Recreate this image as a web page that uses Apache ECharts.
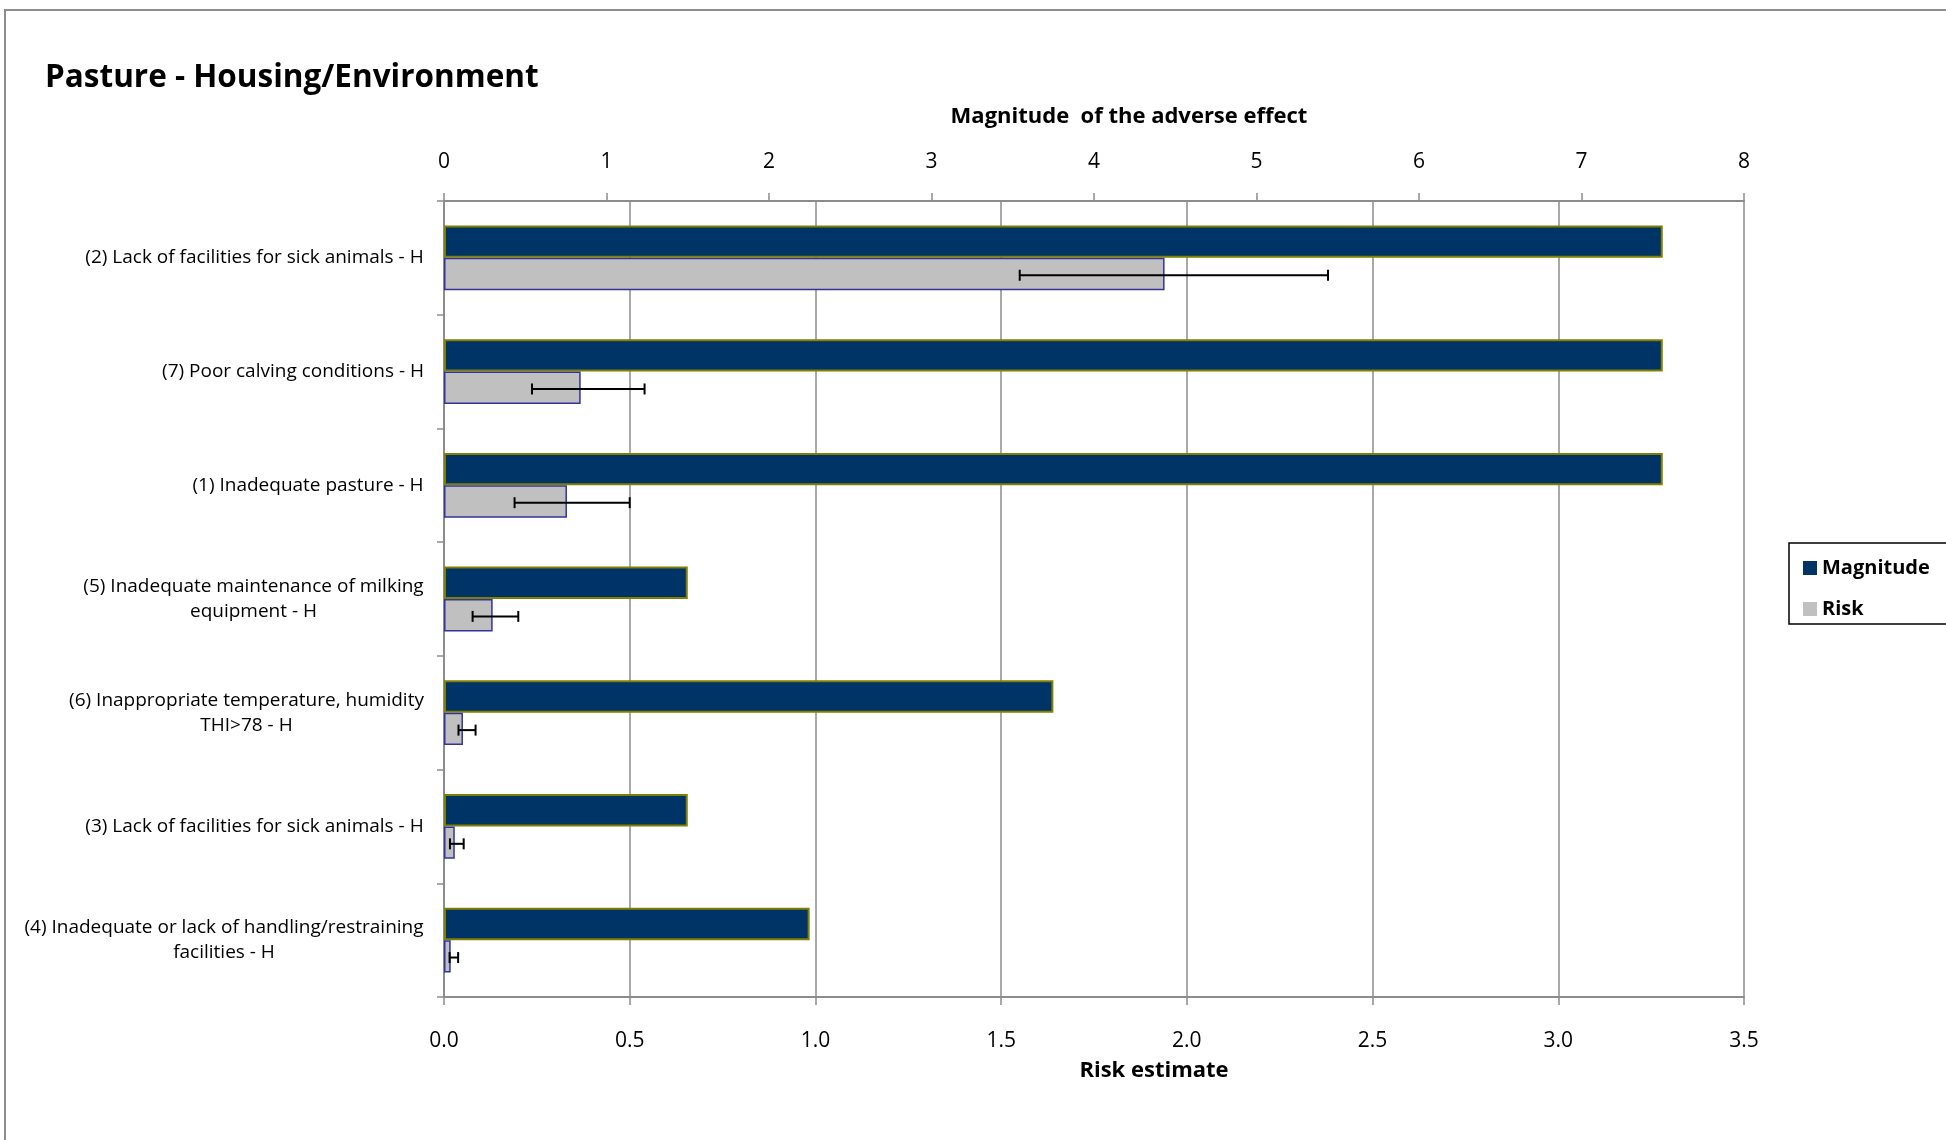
<!DOCTYPE html>
<html>
<head>
<meta charset="utf-8">
<script src="https://cdn.jsdelivr.net/npm/echarts@6/dist/echarts.min.js"></script>
<style>html,body{margin:0;padding:0;background:#fff}#c{width:1946px;height:1140px}</style>
</head>
<body>
<div id="c"></div>
<script>
const categories = [
  "(2) Lack of facilities for sick animals - H",
  "(7) Poor calving conditions - H",
  "(1) Inadequate pasture - H",
  "(5) Inadequate maintenance of milking\nequipment - H",
  "(6) Inappropriate temperature, humidity\nTHI>78 - H",
  "(3) Lack of facilities for sick animals - H",
  "(4) Inadequate or lack of handling/restraining\nfacilities - H"
];
const magnitude = [7.5, 7.5, 7.5, 1.5, 3.75, 1.5, 2.25];
const risk      = [1.94, 0.368, 0.331, 0.131, 0.051, 0.029, 0.018];
const riskLow   = [1.55, 0.237, 0.19, 0.077, 0.039, 0.016, 0.015];
const riskHigh  = [2.38, 0.540, 0.50, 0.200, 0.085, 0.053, 0.038];
const seriesNames = ["Magnitude", "Risk"];

const FONT = "'Open Sans', Lato, sans-serif";
const LABEL_SIZE = 19;
const ctx = document.createElement('canvas').getContext('2d');
ctx.font = LABEL_SIZE + "px 'Open Sans'";
const rich = {};
categories.forEach((c, i) => {
  const w = Math.max(...c.split('\n').map(l => ctx.measureText(l).width));
  rich['l' + i] = { width: Math.ceil(w), align: 'center', fontSize: LABEL_SIZE, fontFamily: FONT, lineHeight: 25, color: '#000' };
});

const chart = echarts.init(document.getElementById('c'), null, { renderer: 'canvas' });
const gray = '#8c8c8c';
chart.setOption({
  backgroundColor: '#fff',
  animation: false,
  graphic: [{
    type: 'rect', z: -10, silent: true,
    shape: { x: 5, y: 10, width: 3000, height: 3000 },
    style: { fill: 'none', stroke: gray, lineWidth: 2 }
  }],
  title: {
    text: 'Pasture - Housing/Environment',
    left: 40, top: 57,
    textStyle: { fontFamily: FONT, fontWeight: 'bold', fontSize: 31.5, color: '#000' }
  },
  legend: {
    orient: 'vertical', left: 1789, top: 543,
    data: seriesNames, icon: 'rect', itemWidth: 14, itemHeight: 14, itemGap: 21,
    padding: [15, 60, 5, 14], borderColor: '#000', borderWidth: 1.5,
    textStyle: { fontFamily: FONT, fontWeight: 'bold', fontSize: 20, color: '#000', lineHeight: 20 },
    itemStyle: { borderWidth: 0 }
  },
  grid: { left: 444, right: 202, top: 201, bottom: 143, containLabel: false },
  xAxis: [{
    type: 'value', position: 'top', min: 0, max: 8, interval: 1,
    name: 'Magnitude  of the adverse effect', nameLocation: 'middle', nameGap: 73,
    nameTextStyle: { fontFamily: FONT, fontWeight: 'bold', fontSize: 22, color: '#000', padding: [0, 0, 0, 70] },
    axisLine: { show: true, onZero: false, lineStyle: { color: gray, width: 2 } },
    axisTick: { show: true, length: 8, lineStyle: { color: gray, width: 1.5 } },
    axisLabel: { fontFamily: FONT, fontSize: 21, color: '#000', margin: 28 },
    splitLine: { show: false }
  }, {
    type: 'value', position: 'bottom', min: 0, max: 3.5, interval: 0.5,
    name: 'Risk estimate', nameLocation: 'middle', nameGap: 63,
    nameTextStyle: { fontFamily: FONT, fontWeight: 'bold', fontSize: 22, color: '#000', padding: [0, 0, 0, 120] },
    axisLine: { show: true, onZero: false, lineStyle: { color: gray, width: 2 } },
    axisTick: { show: true, length: 8, lineStyle: { color: gray, width: 1.5 } },
    axisLabel: { fontFamily: FONT, fontSize: 21, color: '#000', margin: 34, formatter: v => v.toFixed(1) },
    splitLine: { show: true, lineStyle: { color: gray, width: 1.5 } }
  }],
  yAxis: {
    type: 'category', inverse: true, data: categories,
    axisLine: { show: true, onZero: false, lineStyle: { color: gray, width: 2 } },
    axisTick: { show: true, length: 7, lineStyle: { color: gray, width: 1.5 } },
    axisLabel: {
      margin: 20, align: 'right', rich: rich,
      formatter: (v, i) => v.split('\n').map(l => '{l' + i + '|' + l + '}').join('\n')
    },
    splitLine: { show: false }
  },
  series: [{
    name: seriesNames[0], type: 'bar', xAxisIndex: 0, yAxisIndex: 0, data: magnitude,
    barGap: '0%', barCategoryGap: '43%',
    itemStyle: { color: '#003366', borderColor: '#808000', borderWidth: 2 }
  }, {
    name: seriesNames[1], type: 'bar', xAxisIndex: 1, yAxisIndex: 0, data: risk,
    barGap: '0%', barCategoryGap: '43%',
    itemStyle: { color: '#c0c0c0', borderColor: '#333399', borderWidth: 1.5 }
  }, {
    name: 'errors', type: 'custom', xAxisIndex: 1, yAxisIndex: 0, z: 10, silent: true,
    data: categories.map((c, i) => [i, riskLow[i], riskHigh[i]]),
    encode: { x: [1, 2], y: 0 },
    renderItem: (params, api) => {
      const cat = api.value(0);
      const lo = api.coord([api.value(1), cat]);
      const hi = api.coord([api.value(2), cat]);
      const band = api.size([0, 1])[1];
      const y = lo[1] + band * 0.153;
      const cap = 5.5;
      const st = { stroke: '#000', lineWidth: 2 };
      return { type: 'group', children: [
        { type: 'line', shape: { x1: lo[0], y1: y, x2: hi[0], y2: y }, style: st },
        { type: 'line', shape: { x1: lo[0], y1: y - cap, x2: lo[0], y2: y + cap }, style: st },
        { type: 'line', shape: { x1: hi[0], y1: y - cap, x2: hi[0], y2: y + cap }, style: st }
      ]};
    }
  }]
});
</script>
</body>
</html>
